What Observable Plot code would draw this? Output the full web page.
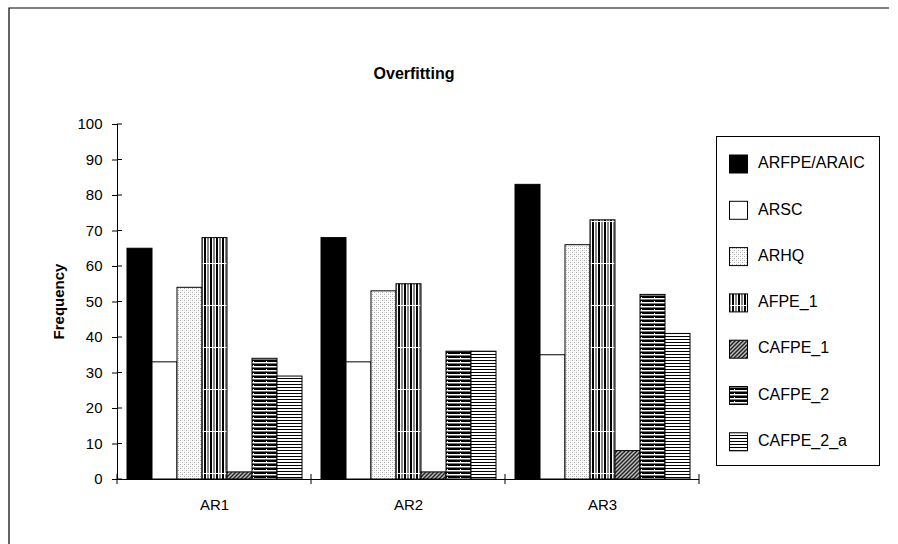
<!DOCTYPE html>
<html>
<head>
<meta charset="utf-8">
<script src="https://cdn.jsdelivr.net/npm/d3@7"></script>
<script src="https://cdn.jsdelivr.net/npm/@observablehq/plot@0.6"></script>
<style>
  html, body { margin: 0; padding: 0; background: #fff; }
  svg { display: block; }
</style>
</head>
<body>
<div id="chart"></div>
<script>
const categories = ["AR1", "AR2", "AR3"];
const series = ["ARFPE/ARAIC", "ARSC", "ARHQ", "AFPE_1", "CAFPE_1", "CAFPE_2", "CAFPE_2_a"];
const valuesAR1 = [65, 33, 54, 68, 2, 34, 29];
const valuesAR2 = [68, 33, 53, 55, 2, 36, 36];
const valuesAR3 = [83, 35, 66, 73, 8, 52, 41];
const yTicks = [0, 10, 20, 30, 40, 50, 60, 70, 80, 90, 100];
const title = "Overfitting";
const yLabel = "Frequency";

const fills = ["#000", "#fff", "url(#pHQ)", "url(#pFPE1)", "url(#pCF1)", "url(#pCF2)", "url(#pCF2a)"];

const seriesValues = [valuesAR1, valuesAR2, valuesAR3];
const data = [];
categories.forEach((c, ci) => series.forEach((s, si) => data.push({cat: c, series: s, value: seriesValues[ci][si]})));

const W = 898, H = 544;
const mL = 117, mR = 199, mT = 124, mB = 65;
const font = "'Liberation Sans', Arial, sans-serif";

const chart = Plot.plot({
  width: W, height: H,
  marginLeft: mL, marginRight: mR, marginTop: mT, marginBottom: mB,
  style: {fontFamily: font, fontSize: "15px", color: "#000", background: "#fff", overflow: "visible"},
  fx: {domain: categories, padding: 0, label: null, tickSize: 0, tickPadding: 20, axis: "bottom"},
  x: {domain: series, paddingInner: 0, paddingOuter: 0.25, axis: null},
  y: {domain: [0, 100], ticks: yTicks, tickSize: 5, tickPadding: 10, label: null, line: true},
  color: {domain: series, range: fills},
  marks: [
    Plot.barY(data, {fx: "cat", x: "series", y: "value", fill: "series", stroke: "#000", strokeWidth: 1}),
    Plot.ruleY([0], {stroke: "#000", strokeWidth: 1})
  ]
});

document.getElementById("chart").appendChild(chart);
const svg = d3.select(chart);

// Patterns
const defs = svg.insert("defs", ":first-child");
const pHQ = defs.append("pattern").attr("id", "pHQ").attr("patternUnits", "userSpaceOnUse").attr("width", 4).attr("height", 4);
pHQ.append("rect").attr("width", 4).attr("height", 4).attr("fill", "#fff");
pHQ.append("rect").attr("x", 0).attr("y", 0).attr("width", 1).attr("height", 1).attr("fill", "#aaa");
pHQ.append("rect").attr("x", 2).attr("y", 2).attr("width", 1).attr("height", 1).attr("fill", "#aaa");
pHQ.append("rect").attr("x", 2).attr("y", 0).attr("width", 1).attr("height", 1).attr("fill", "#ddd");
pHQ.append("rect").attr("x", 0).attr("y", 2).attr("width", 1).attr("height", 1).attr("fill", "#ddd");
const pF1 = defs.append("pattern").attr("id", "pFPE1").attr("patternUnits", "userSpaceOnUse").attr("width", 6).attr("height", 42).attr("y", 473 - 41);
pF1.append("rect").attr("width", 6).attr("height", 42).attr("fill", "#fff");
pF1.append("rect").attr("x", 0).attr("width", 2).attr("height", 42).attr("fill", "#000");
pF1.append("rect").attr("x", 3).attr("width", 2).attr("height", 42).attr("fill", "#888");
pF1.append("rect").attr("x", 0).attr("y", 41).attr("width", 6).attr("height", 1).attr("fill", "#fff");
const pC1 = defs.append("pattern").attr("id", "pCF1").attr("patternUnits", "userSpaceOnUse").attr("width", 4).attr("height", 4);
pC1.append("rect").attr("width", 4).attr("height", 4).attr("fill", "#bbb");
pC1.append("path").attr("d", "M-1,1L1,-1M0,4L4,0M3,5L5,3").attr("stroke", "#222").attr("stroke-width", 1.4);
const pC2 = defs.append("pattern").attr("id", "pCF2").attr("patternUnits", "userSpaceOnUse").attr("width", 13).attr("height", 4);
pC2.append("rect").attr("width", 13).attr("height", 4).attr("fill", "#fff");
pC2.append("rect").attr("y", 0).attr("width", 13).attr("height", 2).attr("fill", "#000");
pC2.append("rect").attr("y", 3).attr("width", 13).attr("height", 1).attr("fill", "#777");
pC2.append("rect").attr("x", 6).attr("y", 1).attr("width", 1).attr("height", 1).attr("fill", "#fff");
const pC2a = defs.append("pattern").attr("id", "pCF2a").attr("patternUnits", "userSpaceOnUse").attr("width", 6).attr("height", 3);
pC2a.append("rect").attr("width", 6).attr("height", 3).attr("fill", "#fff");
pC2a.append("rect").attr("y", 0).attr("width", 6).attr("height", 1).attr("fill", "#000");

const ys = chart.scale("y");
const yPos = ys && ys.apply ? (v) => ys.apply(v) : (v) => (H - mB) - v / 100 * (H - mB - mT);

const deco = svg.append("g").attr("text-anchor", "start");
deco.selectAll("line.yt").data(yTicks).join("line")
  .attr("x1", mL).attr("x2", mL + 5)
  .attr("y1", d => yPos(d)).attr("y2", d => yPos(d))
  .attr("stroke", "#000");
const fxStep = (W - mL - mR) / categories.length;
deco.selectAll("line.xt").data(d3.range(categories.length + 1)).join("line")
  .attr("x1", i => mL + i * fxStep).attr("x2", i => mL + i * fxStep)
  .attr("y1", yPos(0) - 5).attr("y2", yPos(0) + 5)
  .attr("stroke", "#000");

deco.append("path").attr("d", `M9,${H}V8H889`).attr("fill", "none").attr("stroke", "#000").attr("stroke-width", 1.2);

deco.append("text").attr("x", 414).attr("y", 75).attr("text-anchor", "middle").attr("dominant-baseline", "middle")
  .attr("font-family", font).attr("font-weight", "bold").attr("font-size", 16).text(title);
deco.append("text").attr("transform", `translate(60,${(mT + H - mB) / 2}) rotate(-90)`)
  .attr("text-anchor", "middle").attr("dominant-baseline", "middle")
  .attr("font-family", font).attr("font-weight", "bold").attr("font-size", 15).text(yLabel);

const lg = deco.append("g");
lg.append("rect").attr("x", 716.5).attr("y", 136.5).attr("width", 163).attr("height", 329)
  .attr("fill", "#fff").attr("stroke", "#000");
series.forEach((s, i) => {
  const cy = 164 + i * 46.3;
  lg.append("rect").attr("x", 729.5).attr("y", cy - 9).attr("width", 18).attr("height", 18)
    .attr("fill", fills[i]).attr("stroke", "#000");
  lg.append("text").attr("x", 758).attr("y", cy).attr("text-anchor", "start").attr("dominant-baseline", "middle")
    .attr("font-family", font).attr("font-size", 16).text(s);
});
</script>
</body>
</html>
